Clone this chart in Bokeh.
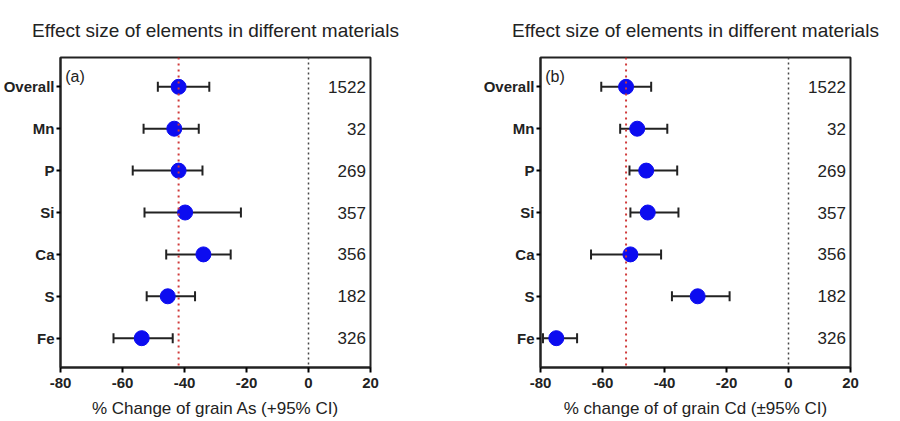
from bokeh.plotting import figure
from bokeh.models import ColumnDataSource, Whisker, Span, Label, FixedTicker, Range1d, TeeHead
from bokeh.layouts import row
from bokeh.embed import file_html
from bokeh.resources import INLINE
from bokeh.core.properties import value

# ---- data ----
categories = ["Overall", "Mn", "P", "Si", "Ca", "S", "Fe"]
counts = ["1522", "32", "269", "357", "356", "182", "326"]

as_mean = [-41.9, -43.3, -41.9, -39.8, -33.9, -45.4, -53.8]
as_lower = [-48.6, -53.2, -56.7, -52.9, -45.9, -52.2, -62.9]
as_upper = [-32.0, -35.4, -34.2, -21.8, -25.1, -36.6, -43.8]

cd_mean = [-52.4, -48.8, -45.9, -45.4, -51.0, -29.3, -74.9]
cd_lower = [-60.4, -54.3, -51.3, -51.0, -63.7, -37.6, -79.2]
cd_upper = [-44.3, -39.1, -35.9, -35.5, -41.1, -19.0, -68.2]

x_ticks = [-80, -60, -40, -20, 0, 20]
x_tick_labels = ["-80", "-60", "-40", "-20", "0", "20"]
title_text = "Effect size of elements in different materials"

FONT = "Liberation Sans"


def make_panel(mean, lower, upper, tag, xlabel, left_border, right_border):
    n = len(categories)
    ypos = list(range(n, 0, -1))
    src = ColumnDataSource(dict(y=ypos, m=mean, lo=lower, hi=upper,
                                cnt=counts, cx=[18.5] * n))
    p = figure(frame_width=310, frame_height=310,
               x_range=Range1d(-80, 20), y_range=Range1d(0.3, n + 0.7),
               output_backend="svg", toolbar_location=None,
               min_border_left=left_border, min_border_right=right_border,
               min_border_top=56, min_border_bottom=40,
               title=title_text)
    p.title.align = "center"
    p.title.text_font = FONT
    p.title.text_font_size = "19px"
    p.title.text_font_style = "normal"
    p.title.text_color = "#222222"
    p.title.standoff = 34

    p.xgrid.visible = False
    p.ygrid.visible = False
    p.outline_line_color = "#222222"
    p.outline_line_width = 2
    p.background_fill_color = "white"
    p.border_fill_color = "white"

    # axes
    p.xaxis.ticker = FixedTicker(ticks=x_ticks)
    p.xaxis.major_label_overrides = {t: s for t, s in zip(x_ticks, x_tick_labels)}
    p.xaxis.minor_tick_line_color = None
    p.xaxis.axis_line_width = 2
    p.xaxis.axis_line_color = "#222222"
    p.xaxis.major_tick_line_width = 2
    p.xaxis.major_tick_out = 5
    p.xaxis.major_tick_in = 0
    p.xaxis.major_label_text_font = FONT
    p.xaxis.major_label_text_font_size = "15px"
    p.xaxis.major_label_text_font_style = "bold"
    p.xaxis.major_label_text_color = "#222222"
    p.xaxis.axis_label = xlabel
    p.xaxis.axis_label_text_font = FONT
    p.xaxis.axis_label_text_font_size = "17px"
    p.xaxis.axis_label_text_font_style = "normal"
    p.xaxis.axis_label_text_color = "#222222"
    p.xaxis.axis_label_standoff = 8

    p.yaxis.ticker = FixedTicker(ticks=ypos)
    p.yaxis.major_label_overrides = {y: c for y, c in zip(ypos, categories)}
    p.yaxis.minor_tick_line_color = None
    p.yaxis.axis_line_width = 2
    p.yaxis.axis_line_color = "#222222"
    p.yaxis.major_tick_line_width = 2
    p.yaxis.major_tick_out = 4
    p.yaxis.major_tick_in = 0
    p.yaxis.major_label_text_font = FONT
    p.yaxis.major_label_text_font_size = "15px"
    p.yaxis.major_label_text_font_style = "bold"
    p.yaxis.major_label_text_color = "#222222"
    p.yaxis.major_label_standoff = 2

    # reference lines
    p.add_layout(Span(location=mean[0], dimension="height", line_color="#d03a3a",
                      line_width=2, line_dash="2 4"))
    p.add_layout(Span(location=0, dimension="height", line_color="#444444",
                      line_width=1.5, line_dash="2 3"))

    # error bars
    w = Whisker(source=src, base="y", lower="lo", upper="hi", dimension="width",
                line_color="#222222", line_width=2)
    w.upper_head = TeeHead(size=10, line_color="#222222", line_width=2)
    w.lower_head = TeeHead(size=10, line_color="#222222", line_width=2)
    p.add_layout(w)

    p.scatter(x="m", y="y", source=src, size=15, fill_color="#0c0cf0",
              line_color="#0c0cf0")

    p.text(x="cx", y="y", text="cnt", source=src, text_align="right",
           text_baseline="middle", text_font=value(FONT),
           text_font_size="17px", text_color="#222222")

    p.add_layout(Label(x=-78.5, y=n + 0.25, text=tag, text_font=FONT,
                       text_font_size="16px", text_baseline="middle",
                       text_color="#222222"))
    return p


pa = make_panel(as_mean, as_lower, as_upper, "(a)",
                "% Change of grain As (+95% CI)", 55, 85)
pb = make_panel(cd_mean, cd_lower, cd_upper, "(b)",
                "% change of of grain Cd (\u00b195% CI)", 85, 47)

layout = row(pa, pb)
open("out.html", "w").write(file_html(layout, INLINE))
